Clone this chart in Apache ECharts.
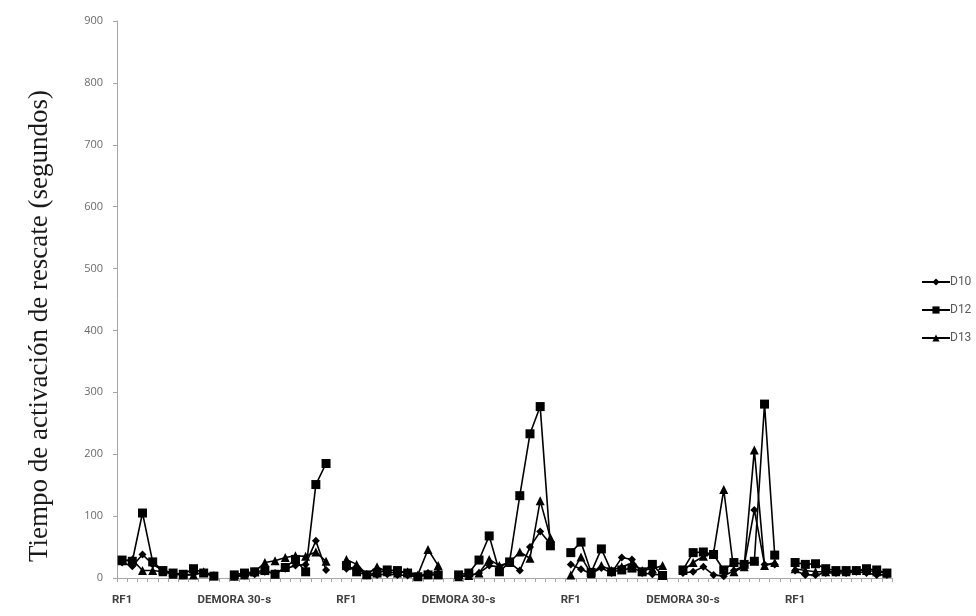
<!DOCTYPE html>
<html>
<head>
<meta charset="utf-8">
<script src="https://cdn.jsdelivr.net/npm/echarts@6/dist/echarts.min.js"></script>
<style>
  html, body { margin: 0; padding: 0; background: #fff; }
  #chart { width: 976px; height: 616px; }
</style>
</head>
<body>
<div id="chart"></div>
<script>
// Phase labels shown under the first trial of each block
const phaseLabels = ['RF1', 'DEMORA 30-s', 'RF1', 'DEMORA 30-s', 'RF1', 'DEMORA 30-s', 'RF1'];
const trialsPerPhase = 10;

// Rescue activation time (s) per trial, one array per phase block
const d10Phases = [
  [25, 19, 38, 22, 12, 8, 5, 6, 8, 3],
  [2, 4, 6, 10, 8, 15, 20, 22, 60, 13],
  [15, 18, 4, 5, 6, 5, 4, 2, 8, 8],
  [3, 3, 8, 20, 18, 25, 12, 50, 75, 55],
  [22, 14, 7, 16, 8, 33, 30, 8, 6, 5],
  [8, 10, 18, 5, 3, 12, 20, 110, 22, 22],
  [12, 5, 5, 8, 8, 8, 10, 8, 5, 5]
];
const d12Phases = [
  [29, 27, 105, 26, 12, 8, 6, 15, 8, 3],
  [5, 8, 10, 12, 6, 17, 30, 10, 151, 185],
  [20, 10, 5, 8, 13, 12, 8, 2, 5, 5],
  [5, 8, 29, 68, 10, 26, 133, 233, 277, 52],
  [41, 58, 9, 47, 10, 13, 16, 10, 22, 4],
  [13, 41, 42, 38, 13, 25, 22, 27, 281, 37],
  [25, 22, 23, 15, 12, 12, 12, 15, 13, 8]
];
const d13Phases = [
  [28, 30, 12, 12, 10, 6, 5, 5, 10, 4],
  [3, 5, 10, 25, 28, 33, 36, 35, 42, 27],
  [30, 22, 6, 18, 10, 8, 10, 5, 46, 20],
  [2, 4, 8, 30, 20, 25, 42, 32, 125, 65],
  [5, 34, 7, 20, 12, 18, 24, 12, 15, 20],
  [12, 25, 35, 40, 143, 10, 18, 207, 20, 25],
  [15, 12, 10, 10, 10, 10, 12, 12, 10, 8]
];

// Y axis ticks
const yMin = 0, yMax = 900, yStep = 100;

// Join phase blocks with an empty slot so each block is drawn as its own line
function joinPhases(blocks) {
  const out = [];
  blocks.forEach((b, i) => {
    if (i > 0) out.push(null);
    out.push(...b);
  });
  return out;
}
function buildCategories() {
  const out = [];
  phaseLabels.forEach((lab, i) => {
    if (i > 0) out.push('');
    for (let k = 0; k < trialsPerPhase; k++) out.push(k === 0 ? lab : '');
  });
  return out;
}

const categories = buildCategories();

const chart = echarts.init(document.getElementById('chart'), null, { renderer: 'canvas' });

function lineSeries(name, data, symbol, size) {
  return {
    name: name,
    type: 'line',
    data: data,
    connectNulls: false,
    symbol: symbol,
    symbolSize: size,
    showAllSymbol: true,
    lineStyle: { color: '#000', width: 1.6 },
    itemStyle: { color: '#000', borderColor: '#000', borderWidth: 0 },
    emphasis: { disabled: true },
    animation: false
  };
}

chart.setOption({
  backgroundColor: '#fff',
  animation: false,
  grid: { left: 117, right: 84, top: 21, bottom: 38, containLabel: false },
  legend: {
    orient: 'vertical',
    left: 916,
    top: 271,
    itemWidth: 28,
    itemHeight: 9,
    itemGap: 16,
    textStyle: { color: '#595959', fontSize: 12, fontFamily: 'Roboto, Open Sans, Liberation Sans, sans-serif', padding: [0, 0, 0, -5] },
    data: ['D10', 'D12', 'D13']
  },
  xAxis: {
    type: 'category',
    data: categories,
    boundaryGap: true,
    axisLine: { lineStyle: { color: '#a6a6a6', width: 1 } },
    axisTick: { show: true, interval: 0, length: 4, lineStyle: { color: '#a6a6a6' } },
    axisLabel: {
      interval: 0,
      margin: 16,
      color: '#404040',
      fontSize: 11.5,
      fontWeight: 'bold',
      fontFamily: 'Roboto, Open Sans, Liberation Sans, sans-serif'
    },
    splitLine: { show: false }
  },
  yAxis: {
    type: 'value',
    min: yMin,
    max: yMax,
    interval: yStep,
    axisLine: { show: true, lineStyle: { color: '#a6a6a6', width: 1 } },
    axisTick: { show: true, length: 4, lineStyle: { color: '#a6a6a6' } },
    axisLabel: {
      margin: 14,
      color: '#6b6b6b',
      fontSize: 11,
      fontFamily: 'Open Sans, Liberation Sans, sans-serif'
    },
    splitLine: { show: false }
  },
  graphic: [{
    type: 'text',
    rotation: Math.PI / 2,
    x: 40,
    y: 326,
    style: {
      text: 'Tiempo de activación de rescate (segundos)',
      fontFamily: 'Liberation Serif, Times New Roman, serif',
      fontSize: 27,
      fill: '#1a1a1a',
      align: 'center',
      verticalAlign: 'middle'
    }
  }],
  series: [
    lineSeries('D10', joinPhases(d10Phases), 'diamond', 8),
    lineSeries('D12', joinPhases(d12Phases), 'rect', 9),
    lineSeries('D13', joinPhases(d13Phases), 'triangle', 9)
  ]
});
</script>
</body>
</html>
